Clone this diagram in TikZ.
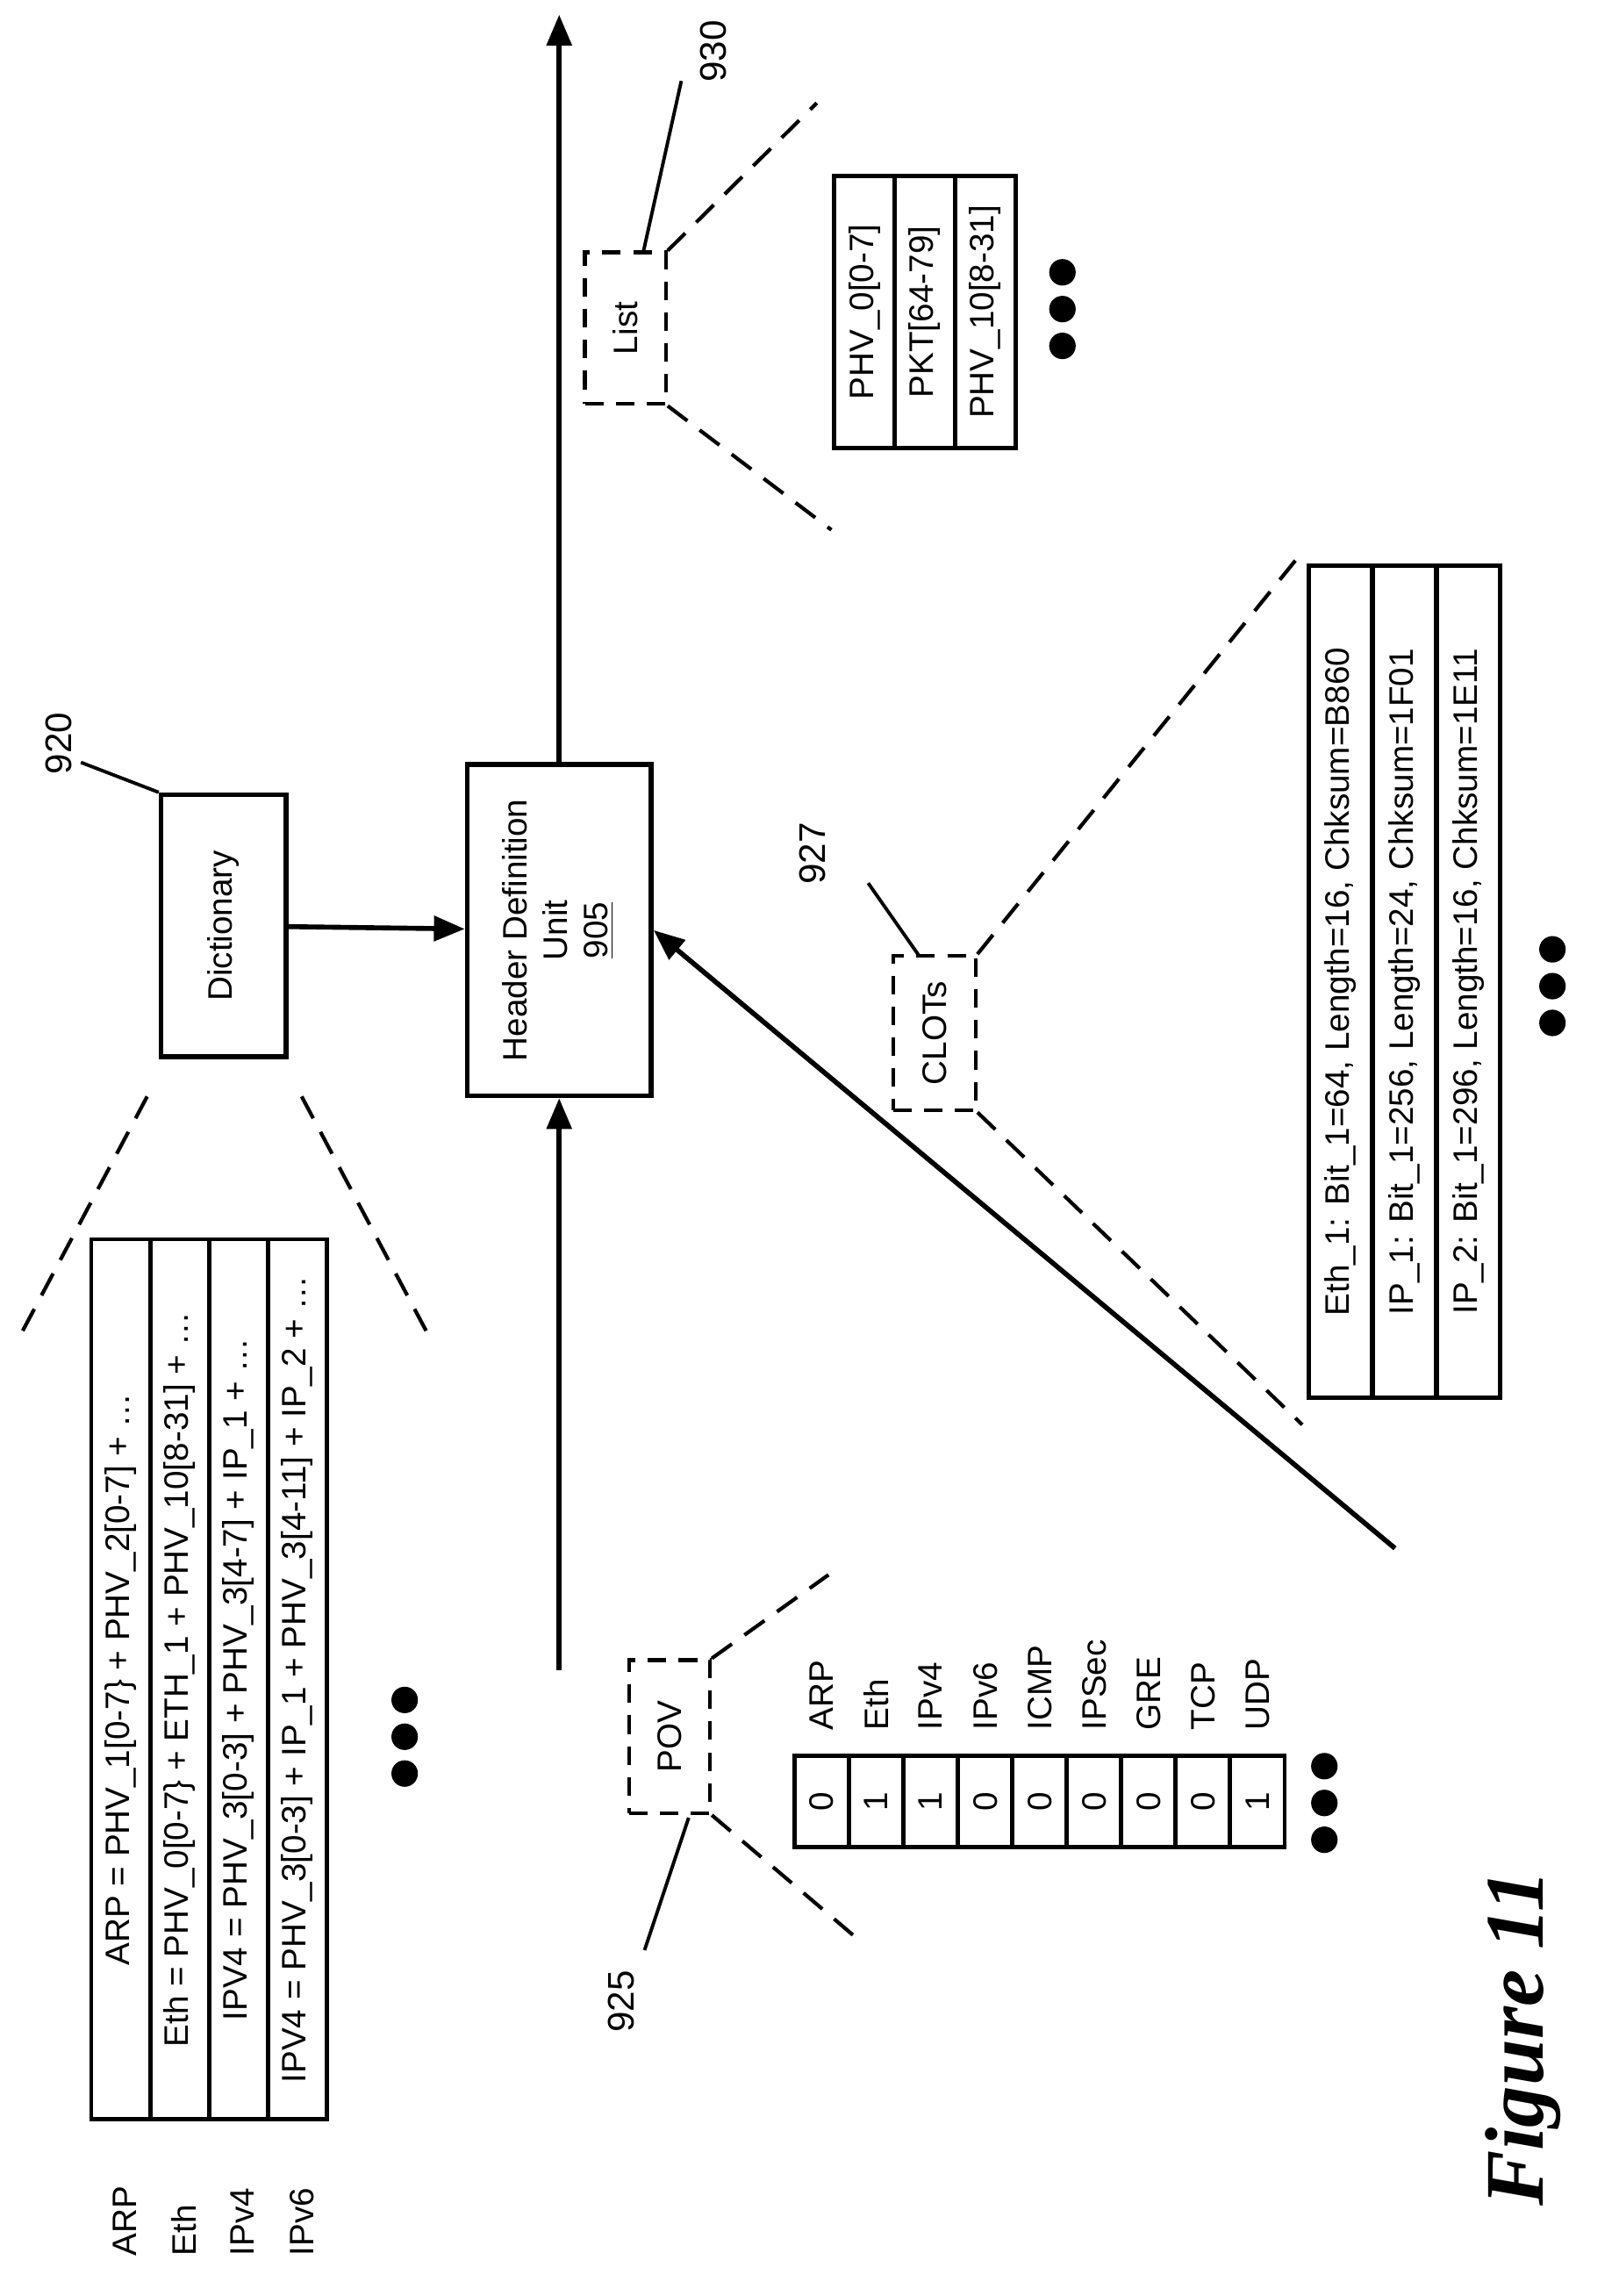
\documentclass[tikz,border=0pt]{standalone}
\usepackage{fontspec}
\setmainfont{Liberation Sans}
\newfontfamily\figfont{Liberation Serif}
\usetikzlibrary{arrows.meta}
\newcommand{\px}{0.01677cm}
\tikzset{
  box/.style={draw, line width=1.6pt},
  dbox/.style={draw, dash pattern=on 6pt off 4pt, line width=1.2pt},
  cell/.style={draw, line width=1.4pt, rotate=90, inner sep=0pt},
  lead/.style={line width=1.1pt},
  flow/.style={line width=1.6pt, -{Triangle[length=10pt,width=8pt]}},
  fan/.style={dash pattern=on 8pt off 5pt, line width=1.2pt},
  lbl/.style={rotate=90, font=\fontsize{12}{14}\selectfont},
}
\begin{document}
\begin{tikzpicture}[x=\px, y=-\px, font=\fontsize{11}{13}\selectfont]
\useasboundingbox (0,0) rectangle (1100,1560);

% Header definition unit and dictionary
\node[box, minimum width=125*\px, minimum height=225*\px] (hdu) at (380,632)
  {\rotatebox{90}{\begin{tabular}{c}Header Definition\\Unit\\\underline{905}\end{tabular}}};
\node[box, minimum width=85*\px, minimum height=178*\px] (dict) at (152,629) {\rotatebox{90}{Dictionary}};
\node[lbl] (n920) at (40,505) {920};
\draw[lead] (55,518) -- (dict.north west);

% Flow arrows
\coordinate (in) at (380,1135);
\coordinate (out) at (380,10);
\coordinate (diag) at (948,1052);
\draw[flow] (in) -- (hdu.south);
\draw[flow] (hdu.north) -- (out);
\draw[flow] (dict) -- (hdu);
\draw[flow] (diag) -- (hdu.east);

% Dictionary contents
\draw[fan] (100,745) -- (15,905);
\draw[fan] (205,745) -- (290,905);
\foreach \i/\t in {0/{ARP = PHV\_1[0-7\} + PHV\_2[0-7] + \dots},
  1/{Eth = PHV\_0[0-7\} + ETH\_1 + PHV\_10[8-31] + \dots},
  2/{IPV4 = PHV\_3[0-3] + PHV\_3[4-7] + IP\_1 + \dots},
  3/{IPV4 = PHV\_3[0-3] + IP\_1 + PHV\_3[4-11] + IP\_2 + \dots}}
  \node[cell, minimum width=598*\px, minimum height=40*\px] (dc\i) at (82+40*\i,1141) {\t};
\foreach \i/\t in {0/ARP,1/Eth,2/IPv4,3/IPv6}
  \node[rotate=90, anchor=west] (dl\i) at (85+40*\i,1540) {\t};
\foreach \d in {-25,0,25} \fill (275,1180+\d) circle (9);

% POV
\node[dbox, minimum width=55*\px, minimum height=104*\px] (pov) at (455,1180) {\rotatebox{90}{POV}};
\draw[fan] (pov.north east) -- (563,1070);
\draw[fan] (pov.south east) -- (580,1315);
\node[lbl] (n925) at (422,1360) {925};
\draw[lead] (438,1325) -- (468,1235);
\foreach \i/\v/\t in {0/0/ARP,1/1/Eth,2/1/IPv4,3/0/IPv6,4/0/ICMP,5/0/IPSec,6/0/GRE,7/0/TCP,8/1/UDP} {
  \node[cell, minimum width=62*\px, minimum height=37*\px] (pc\i) at (558.5+37*\i,1224) {\v};
  \node[rotate=90, anchor=west] (pl\i) at (558.5+37*\i,1183) {\t};
}
\foreach \d in {-25,0,25} \fill (900,1225+\d) circle (9);

% CLOTs
\node[dbox, minimum width=56*\px, minimum height=105*\px] (clot) at (635,702) {\rotatebox{90}{CLOTs}};
\draw[fan] (clot.north east) -- (885,375);
\draw[fan] (clot.south east) -- (885,968);
\node[lbl] (n927) at (552,580) {927};
\draw[lead] (590,600) -- (625,650);
\foreach \i/\t in {0/{Eth\_1: Bit\_1=64, Length=16, Chksum=B860},
  1/{IP\_1: Bit\_1=256, Length=24, Chksum=1F01},
  2/{IP\_2: Bit\_1=296, Length=16, Chksum=1E11}}
  \node[cell, minimum width=565*\px, minimum height=43*\px] (cc\i) at (911+43.5*\i,667) {\t};
\foreach \d in {-25,0,25} \fill (1055,670+\d) circle (9);

% List
\node[dbox, minimum width=55*\px, minimum height=103*\px] (list) at (425,223) {\rotatebox{90}{List}};
\draw[fan] (list.north east) -- (555,70);
\draw[fan] (list.south east) -- (565,360);
\node[lbl] (n930) at (485,35) {930};
\draw[lead] (463,55) -- (437,172);
\foreach \i/\t in {0/{PHV\_0[0-7]},1/{PKT[64-79]},2/{PHV\_10[8-31]}}
  \node[cell, minimum width=185*\px, minimum height=41*\px] (lc\i) at (587.5+41*\i,212) {\t};
\foreach \d in {-25,0,25} \fill (722,210+\d) circle (9);

\node[rotate=90, font=\figfont\bfseries\itshape\fontsize{27}{30}\selectfont] (fig) at (1035,1385) {Figure 11};
\end{tikzpicture}
\end{document}
